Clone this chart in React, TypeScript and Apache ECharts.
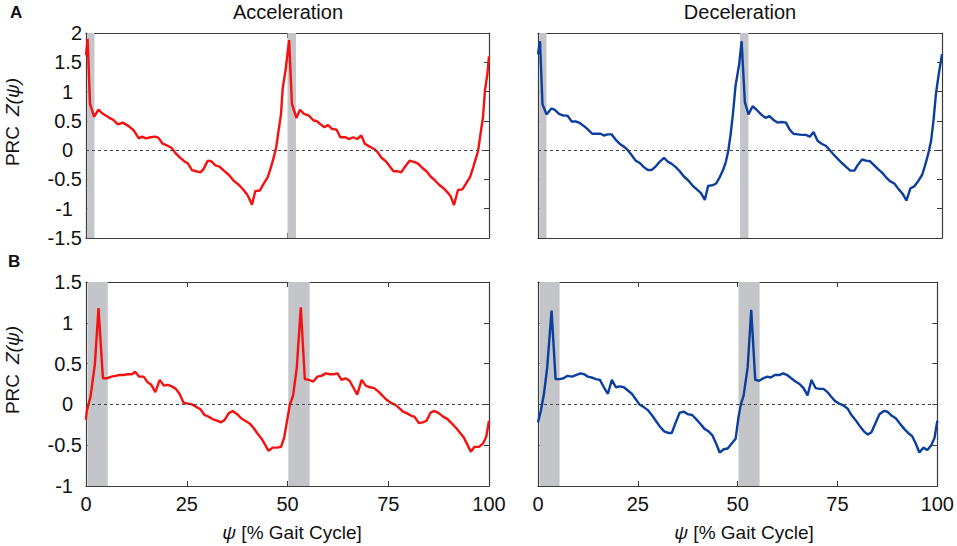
import React, { useEffect, useRef } from "react";
import * as echarts from "echarts";

// ---------- data (x = % gait cycle, y = PRC value) ----------
const accelA: number[][] = [
  [0, 1.62], [0.4, 1.9], [1, 0.79], [2, 0.57], [3.1, 0.69], [4, 0.63], [5.6, 0.56], [6.9, 0.51], [7.9, 0.44], [9.1, 0.47],
  [10.6, 0.41], [11.8, 0.34], [13.1, 0.2], [13.9, 0.23], [14.9, 0.2], [16, 0.22], [17.2, 0.23], [18, 0.21], [19, 0.11],
  [20.1, 0.08], [21.2, 0.04], [22.2, -0.05], [23.2, -0.12], [24.2, -0.18], [25.3, -0.23], [26.3, -0.34], [27.3, -0.36],
  [28.4, -0.38], [29.2, -0.32], [30.2, -0.18], [31.1, -0.19], [32.1, -0.26], [33.1, -0.28], [34.2, -0.35], [35.4, -0.42],
  [36.6, -0.52], [37.9, -0.59], [39.1, -0.68], [40.1, -0.77], [41.2, -0.93], [42, -0.7], [43.1, -0.69], [44.1, -0.57],
  [45.1, -0.46], [45.9, -0.29], [46.6, -0.12], [47.2, 0.05], [47.8, 0.34], [48.4, 0.62], [48.8, 1.05], [49.5, 1.36],
  [50.4, 1.88], [51.1, 0.79], [52.2, 0.55], [53.1, 0.69], [54.1, 0.62], [55.3, 0.59], [56.4, 0.51], [57.4, 0.49],
  [58.2, 0.44], [59.2, 0.39], [60, 0.43], [61.1, 0.36], [62.2, 0.35], [63.1, 0.22], [64.4, 0.22], [65.2, 0.19],
  [66.3, 0.22], [67.3, 0.19], [68.3, 0.25], [69.2, 0.11], [70.4, 0.06], [71.5, 0.02], [72.3, -0.03], [73.3, -0.13],
  [74.4, -0.19], [75.4, -0.28], [76.3, -0.36], [77.3, -0.36], [78.2, -0.38], [79.3, -0.27], [80.3, -0.18], [81.4, -0.2],
  [82.4, -0.23], [83.4, -0.3], [84.5, -0.36], [85.5, -0.45], [86.5, -0.51], [87.6, -0.59], [88.7, -0.65], [89.7, -0.72],
  [90.5, -0.79], [91.3, -0.94], [92.3, -0.68], [93.4, -0.67], [94.4, -0.56], [95.3, -0.46], [96.1, -0.29], [96.7, -0.15],
  [97.3, -0.01], [97.9, 0.28], [98.5, 0.56], [99, 1.02], [99.6, 1.3], [100, 1.6],
];

const decelA: number[][] = [
  [0, 1.64], [0.5, 1.86], [1.1, 0.79], [2.1, 0.61], [3.3, 0.71], [4.1, 0.69], [5.2, 0.62], [6.3, 0.59], [7.3, 0.59],
  [8.3, 0.49], [9.3, 0.49], [10.4, 0.46], [11.4, 0.41], [12.4, 0.35], [13.4, 0.28], [14.5, 0.28], [15.5, 0.28],
  [16.3, 0.25], [17.3, 0.27], [18.2, 0.27], [19.2, 0.18], [20.2, 0.11], [21.3, 0.06], [22.1, 0.01], [23.1, -0.08],
  [24.2, -0.18], [25.2, -0.22], [26.2, -0.29], [27.2, -0.34], [28.1, -0.34], [29.1, -0.28], [30.1, -0.2], [31.2, -0.13],
  [32, -0.19], [33, -0.23], [34.1, -0.29], [35.1, -0.36], [36.1, -0.45], [37.1, -0.51], [38.2, -0.6], [39.3, -0.67],
  [40.3, -0.73], [41.3, -0.85], [42.1, -0.61], [43.2, -0.6], [44.1, -0.57], [45, -0.46], [45.8, -0.34], [46.5, -0.2],
  [47.1, -0.01], [47.7, 0.28], [48.3, 0.65], [48.9, 1.1], [49.8, 1.47], [50.4, 1.86], [51.2, 0.82], [52.1, 0.61],
  [53.1, 0.75], [54.1, 0.69], [55.2, 0.61], [56.3, 0.55], [57.3, 0.58], [58.2, 0.52], [59.3, 0.47], [60.3, 0.48],
  [61.4, 0.47], [62.2, 0.36], [63.2, 0.28], [64.3, 0.27], [65.3, 0.26], [66.3, 0.26], [67.3, 0.23], [68.2, 0.31],
  [69.2, 0.16], [70.2, 0.11], [71.3, 0.07], [72.1, 0.01], [73.1, -0.07], [74.2, -0.15], [75.2, -0.22], [76.2, -0.28],
  [77.3, -0.35], [78.3, -0.35], [79.1, -0.26], [80.2, -0.16], [81.2, -0.18], [82.2, -0.19], [83.1, -0.25], [84.1, -0.32],
  [85.1, -0.38], [86.1, -0.46], [87.1, -0.53], [88.2, -0.57], [89.3, -0.67], [90.3, -0.75], [91.2, -0.86], [92.2, -0.65],
  [93.1, -0.62], [94.1, -0.53], [95.1, -0.42], [95.9, -0.24], [96.6, -0.06], [97.3, 0.16], [97.9, 0.51], [98.5, 0.96],
  [99.2, 1.3], [100, 1.64],
];

const accelB: number[][] = [
  [0, -0.19], [0.2, -0.08], [1.1, 0.09], [2.2, 0.49], [3.1, 1.18], [4.2, 0.32], [5.2, 0.32], [6.3, 0.34], [7.3, 0.35],
  [8.3, 0.36], [9.3, 0.36], [10.3, 0.37], [11.4, 0.37], [12.2, 0.4], [13.2, 0.34], [14.3, 0.34], [15.3, 0.27],
  [16.2, 0.24], [17.2, 0.15], [18.3, 0.3], [19.3, 0.23], [20.3, 0.24], [21.3, 0.22], [22.3, 0.19], [23.2, 0.13],
  [24.2, 0.02], [25.3, 0.01], [26.3, 0], [27.3, -0.03], [28.4, -0.06], [29.4, -0.13], [30.4, -0.15], [31.4, -0.18],
  [32.5, -0.2], [33.5, -0.22], [34.4, -0.19], [35.4, -0.11], [36.4, -0.08], [37.5, -0.12], [38.5, -0.17], [39.5, -0.2],
  [40.5, -0.23], [41.6, -0.29], [42.6, -0.36], [43.7, -0.43], [44.5, -0.5], [45.3, -0.57], [46.3, -0.53], [47.4, -0.53],
  [48.4, -0.52], [49.2, -0.4], [50, -0.17], [50.6, 0], [51.4, 0.11], [52.3, 0.45], [53.3, 1.19], [54.3, 0.31],
  [55.3, 0.3], [56.4, 0.28], [57.4, 0.34], [58.4, 0.35], [59.5, 0.38], [60.5, 0.37], [61.4, 0.37], [62.4, 0.38],
  [63.4, 0.3], [64.4, 0.32], [65.4, 0.29], [66.3, 0.21], [67.3, 0.12], [68.4, 0.3], [69.4, 0.23], [70.5, 0.21],
  [71.5, 0.2], [72.5, 0.16], [73.5, 0.11], [74.5, 0.06], [75.6, 0.02], [76.6, 0], [77.6, -0.04], [78.7, -0.09],
  [79.7, -0.11], [80.7, -0.14], [81.5, -0.15], [82.6, -0.23], [83.6, -0.22], [84.5, -0.2], [85.5, -0.1], [86.5, -0.08],
  [87.6, -0.11], [88.6, -0.15], [89.7, -0.18], [90.7, -0.23], [91.7, -0.28], [92.7, -0.34], [93.8, -0.41], [94.6, -0.49],
  [95.5, -0.58], [96.4, -0.52], [97.5, -0.52], [98.5, -0.48], [99.3, -0.4], [100, -0.2],
];

const decelB: number[][] = [
  [0, -0.22], [0.7, -0.08], [1.5, 0.13], [2.3, 0.45], [3.4, 1.15], [4.4, 0.31], [5.4, 0.31], [6.4, 0.32], [7.4, 0.35],
  [8.5, 0.34], [9.5, 0.36], [10.6, 0.38], [11.6, 0.37], [12.5, 0.34], [13.4, 0.33], [14.5, 0.31], [15.5, 0.3],
  [16.5, 0.21], [17.5, 0.13], [18.5, 0.3], [19.5, 0.21], [20.5, 0.22], [21.5, 0.21], [22.5, 0.17], [23.5, 0.13],
  [24.4, 0.07], [25.4, 0], [26.4, -0.03], [27.5, -0.07], [28.5, -0.13], [29.5, -0.2], [30.5, -0.27], [31.6, -0.33],
  [32.6, -0.35], [33.5, -0.35], [34.5, -0.22], [35.5, -0.1], [36.6, -0.09], [37.5, -0.12], [38.6, -0.13], [39.6, -0.18],
  [40.7, -0.24], [41.7, -0.3], [42.7, -0.33], [43.7, -0.38], [44.6, -0.48], [45.5, -0.59], [46.5, -0.55], [47.5, -0.54],
  [48.5, -0.48], [49.5, -0.42], [50.2, -0.16], [50.8, 0], [51.5, 0.11], [52.5, 0.45], [53.4, 1.16], [54.4, 0.3],
  [55.4, 0.29], [56.4, 0.32], [57.4, 0.34], [58.3, 0.33], [59.3, 0.36], [60.4, 0.36], [61.4, 0.38], [62.4, 0.36],
  [63.4, 0.32], [64.5, 0.28], [65.5, 0.25], [66.5, 0.2], [67.5, 0.11], [68.5, 0.3], [69.5, 0.2], [70.5, 0.19],
  [71.5, 0.19], [72.5, 0.15], [73.5, 0.09], [74.4, 0.04], [75.4, 0.01], [76.4, -0.01], [77.5, -0.05], [78.5, -0.13],
  [79.5, -0.19], [80.5, -0.26], [81.6, -0.33], [82.6, -0.37], [83.5, -0.34], [84.5, -0.23], [85.5, -0.12], [86.6, -0.08],
  [87.5, -0.09], [88.6, -0.14], [89.6, -0.17], [90.7, -0.24], [91.7, -0.3], [92.7, -0.35], [93.7, -0.39], [94.6, -0.48],
  [95.5, -0.59], [96.5, -0.53], [97.5, -0.56], [98.5, -0.5], [99.3, -0.41], [100, -0.2],
];

// shaded regions (x ranges)
const bandsA: number[][] = [[0.3, 2.1], [50, 52.1]];
const bandsB: number[][] = [[0.4, 5.4], [50.2, 55.5]];

// axis ranges
const yRangeA = { min: -1.5, max: 2, interval: 0.5 };
const yRangeB = { min: -1, max: 1.5, interval: 0.5 };
const xTickA = 50;
const xTickB = 25;

const titles = ["Acceleration", "Deceleration"];
const panelLetters = ["A", "B"];
const yName = "PRC";
const yNameFn = "Z(ψ)";
const xNameSym = "ψ";
const xNameRest = " [% Gait Cycle]";

const RED = "#f61010";
const BLUE = "#0b3e9e";
const BAND = "#c4c5c9";
const FONT = "'Liberation Sans', Arial, Helvetica, sans-serif";

export default function App() {
  const ref = useRef<HTMLDivElement>(null);

  useEffect(() => {
    if (!ref.current) return;
    const chart = echarts.init(ref.current, undefined, { renderer: "svg" });

    const grids = [
      { left: 86, top: 33, width: 403, height: 205 },
      { left: 538, top: 33, width: 404, height: 205 },
      { left: 86, top: 282, width: 403, height: 204 },
      { left: 538, top: 282, width: 404, height: 204 },
    ];
    const panels = [
      { data: accelA, color: RED, bands: bandsA, yr: yRangeA, xt: xTickA, xLabels: false, yLabels: true },
      { data: decelA, color: BLUE, bands: bandsA, yr: yRangeA, xt: xTickA, xLabels: false, yLabels: false },
      { data: accelB, color: RED, bands: bandsB, yr: yRangeB, xt: xTickB, xLabels: true, yLabels: true },
      { data: decelB, color: BLUE, bands: bandsB, yr: yRangeB, xt: xTickB, xLabels: true, yLabels: false },
    ];

    const axisLine = { show: true, onZero: false, lineStyle: { color: "#3a3a3a", width: 1.2 } };
    const axisTick = { show: true, inside: true, length: 5, lineStyle: { color: "#3a3a3a", width: 1 } };
    const labelStyle = { color: "#111", fontFamily: FONT, fontSize: 20 };

    const xAxis: any[] = [];
    const yAxis: any[] = [];
    const series: any[] = [];

    panels.forEach((p, i) => {
      xAxis.push({
        type: "value", gridIndex: i, position: "bottom", min: 0, max: 100, interval: p.xt,
        axisLine, axisTick, splitLine: { show: false },
        axisLabel: { show: p.xLabels, margin: 8, ...labelStyle },
      });
      xAxis.push({
        type: "value", gridIndex: i, position: "top", min: 0, max: 100, interval: p.xt,
        axisLine, axisTick, splitLine: { show: false }, axisLabel: { show: false },
      });
      yAxis.push({
        type: "value", gridIndex: i, position: "left", min: p.yr.min, max: p.yr.max, interval: p.yr.interval,
        axisLine, axisTick, splitLine: { show: false },
        axisLabel: {
          show: p.yLabels, margin: 4, ...labelStyle,
          formatter: (v: number) => (Number.isInteger(v) && v !== 2 ? `{p|${v}}` : `${v}`),
          rich: { p: { fontFamily: FONT, fontSize: 20, color: "#111", padding: [0, 9, 0, 0] } },
        },
      });
      yAxis.push({
        type: "value", gridIndex: i, position: "right", min: p.yr.min, max: p.yr.max, interval: p.yr.interval,
        axisLine, axisTick, splitLine: { show: false }, axisLabel: { show: false },
      });

      // background: shaded bands + dashed zero line
      series.push({
        type: "line", xAxisIndex: 2 * i, yAxisIndex: 2 * i, data: p.data, symbol: "none", silent: true,
        lineStyle: { opacity: 0 }, z: 1,
        markArea: {
          silent: true,
          itemStyle: { color: BAND, opacity: 1 },
          data: p.bands.map((b) => [{ xAxis: b[0] }, { xAxis: b[1] }]),
        },
        markLine: {
          silent: true, symbol: "none", label: { show: false },
          lineStyle: { color: "#444", type: [3, 3], width: 1 },
          data: [{ yAxis: 0 }],
        },
      });
      series.push({
        type: "line", xAxisIndex: 2 * i, yAxisIndex: 2 * i, data: p.data, symbol: "none",
        lineStyle: { color: p.color, width: 2.4 }, z: 3,
      });
    });

    const graphic: any[] = [
      { type: "text", left: 10, top: 4, style: { text: panelLetters[0], font: `bold 17px ${FONT}`, fill: "#111" } },
      { type: "text", left: 8, top: 253, style: { text: panelLetters[1], font: `bold 17px ${FONT}`, fill: "#111" } },
    ];
    [288, 740].forEach((cx, k) => {
      graphic.push({
        type: "text", x: cx, y: 12,
        style: { text: titles[k], font: `20px ${FONT}`, fill: "#111", textAlign: "center", textVerticalAlign: "middle", align: "center", verticalAlign: "middle" },
      });
      graphic.push({
        type: "text", x: cx + 4, y: 532,
        style: {
          text: `{i|${xNameSym}}{n|${xNameRest}}`,
          textAlign: "center", textVerticalAlign: "middle", align: "center", verticalAlign: "middle",
          rich: {
            i: { font: `italic 19px ${FONT}`, fill: "#111" },
            n: { font: `19px ${FONT}`, fill: "#111" },
          },
        },
      });
    });
    [122, 370].forEach((cy) => {
      graphic.push({
        type: "text", x: 12, y: cy, rotation: Math.PI / 2,
        style: {
          text: `{n|${yName}}{i|${yNameFn}}`,
          textAlign: "center", textVerticalAlign: "middle", align: "center", verticalAlign: "middle",
          rich: {
            n: { font: `19px ${FONT}`, fill: "#111", padding: [0, 10, 0, 0] },
            i: { font: `italic 19px ${FONT}`, fill: "#111" },
          },
        },
      });
    });

    chart.setOption({
      animation: false,
      backgroundColor: "#ffffff",
      grid: grids.map((g) => ({ ...g, containLabel: false })),
      xAxis,
      yAxis,
      series,
      graphic,
    });

    return () => chart.dispose();
  }, []);

  return (
    <div
      ref={ref}
      style={{ position: "fixed", left: 0, top: 0, width: 957, height: 546, background: "#fff" }}
    />
  );
}
